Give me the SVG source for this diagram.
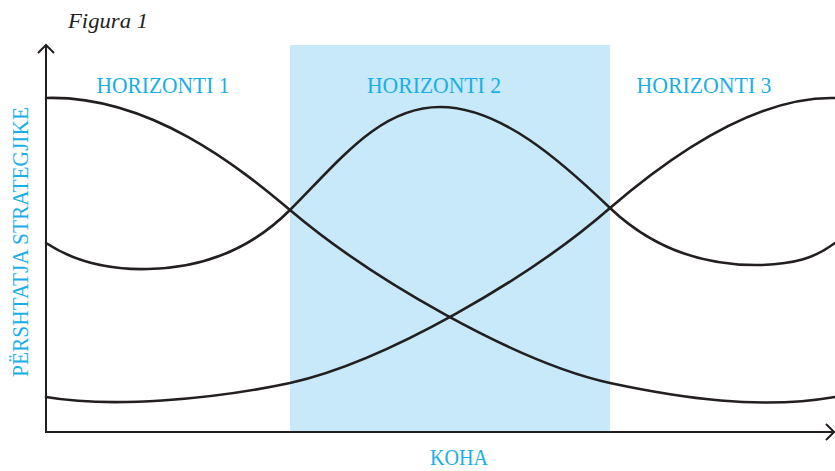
<svg xmlns="http://www.w3.org/2000/svg" width="835" height="471" viewBox="0 0 835 471">
<style>
.lbl{font-family:"Liberation Serif","DejaVu Serif",serif;font-size:23px;fill:#19afe6}
.crv{fill:none;stroke:#231f20;stroke-width:2.6;stroke-linecap:round}
.ax{fill:none;stroke:#231f20;stroke-width:2}
</style>
<rect x="290" y="45" width="320" height="387" fill="#c7e9f9"/>
<text x="68" y="28" font-family="Liberation Serif, serif" font-style="italic" font-size="22" fill="#231f20" textLength="80" lengthAdjust="spacingAndGlyphs">Figura 1</text>
<g id="axes">
<path class="ax" d="M46,45 V432 H834"/>
<path class="ax" d="M38,53 L46,45 L54,53"/>
<path class="ax" d="M826,424 L834,432 L826,440"/>
</g>
<g id="labels">
<text class="lbl" x="163" y="93" text-anchor="middle" textLength="133" lengthAdjust="spacingAndGlyphs">HORIZONTI 1</text>
<text class="lbl" x="434" y="93" text-anchor="middle" textLength="134" lengthAdjust="spacingAndGlyphs">HORIZONTI 2</text>
<text class="lbl" x="704" y="93" text-anchor="middle" textLength="135" lengthAdjust="spacingAndGlyphs">HORIZONTI 3</text>
<text class="lbl" transform="translate(28,242) rotate(-90)" text-anchor="middle" textLength="270" lengthAdjust="spacingAndGlyphs">PËRSHTATJA STRATEGJIKE</text>
<text class="lbl" x="459" y="465" font-size="22" text-anchor="middle" textLength="58" lengthAdjust="spacingAndGlyphs">KOHA</text>
</g>
<g id="curves">
<path class="crv" d="M46,98 C150,95 240,168 290,210 C370,278 515,362 610,383 C680,398 760,410 835,397"/>
<path class="crv" d="M46,243 C75,262 110,270 148,269 C200,268 250,250 290,210 C340,160 380,107 440,107 C500,107 560,160 610,208 C650,246 700,266 760,265 C795,264 815,258 835,243"/>
<path class="crv" d="M46,397 C110,408 210,400 290,383 C385,362 530,278 610,208 C660,165 750,96 835,98"/>
</g>
</svg>
